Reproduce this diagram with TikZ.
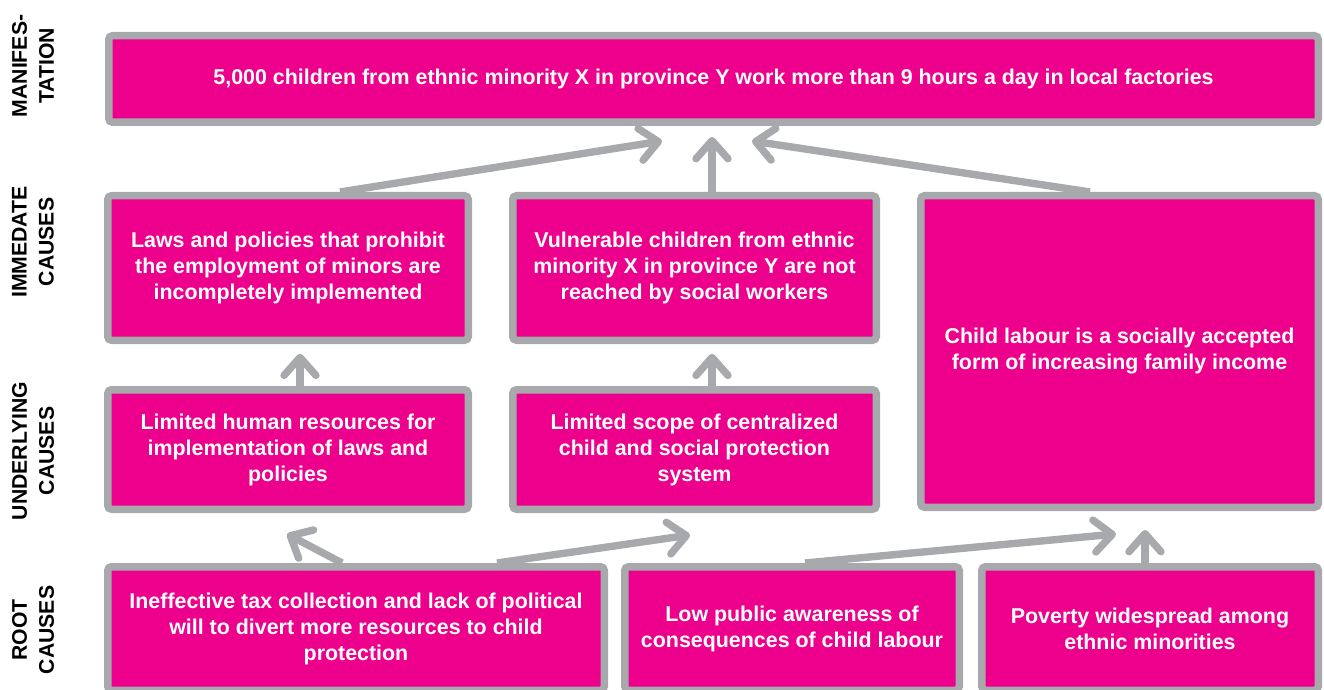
\documentclass[tikz,border=0pt]{standalone}
\usepackage{fontspec}
\setmainfont{Liberation Sans}
\usetikzlibrary{arrows.meta,calc}
\definecolor{ucMag}{HTML}{EC008C}
\definecolor{ucGray}{HTML}{A7A9AC}

\begin{document}
\begin{tikzpicture}[x=0.5pt,y=-0.5pt,
  cbox/.style={fill=ucMag,draw=ucGray,line width=3.75pt,rounded corners=1.875pt,text=white,
    font=\bfseries\fontsize{10.7}{13}\selectfont,align=center,inner sep=0pt},
  lvl/.style={rotate=90,font=\bfseries\fontsize{10.6}{13.5}\selectfont,align=center},
  carr/.style={draw=ucGray,line width=3.7pt,-{Straight Barb[length=9pt,width=16pt,round]}}]
\useasboundingbox (0,0) rectangle (1324,690);
% row labels
\node[lvl] (lm) at (33,66) {MANIFES-\\TATION};
\node[lvl] (li) at (33,242) {IMMEDATE\\CAUSES};
\node[lvl] (lu) at (33,451) {UNDERLYING\\CAUSES};
\node[lvl] (lr) at (33,630) {ROOT\\CAUSES};
% boxes
\node[cbox,minimum width=604.75pt,minimum height=43.25pt] (m) at (713.5,79)
  {5,000 children from ethnic minority X in province Y work more than 9 hours a day in local factories};
\node[cbox,minimum width=180.25pt,minimum height=72.25pt] (i1) at (288,268)
  {Laws and policies that prohibit\\the employment of minors are\\incompletely implemented};
\node[cbox,minimum width=181.75pt,minimum height=72.25pt] (i2) at (694.5,268)
  {Vulnerable children from ethnic\\minority X in province Y are not\\reached by social workers};
\node[cbox,minimum width=198.75pt,minimum height=155.75pt] (i3) at (1119.5,351.5)
  {Child labour is a socially accepted\\form of increasing family income};
\node[cbox,minimum width=180.25pt,minimum height=59.75pt] (u1) at (288,449.5)
  {Limited human resources for\\implementation of laws and\\policies};
\node[cbox,minimum width=181.75pt,minimum height=59.75pt] (u2) at (694.5,449.5)
  {Limited scope of centralized\\child and social protection\\system};
\node[cbox,minimum width=248.25pt,minimum height=61.75pt] (r1) at (356,628.5)
  {Ineffective tax collection and lack of political\\will to divert more resources to child\\protection};
\node[cbox,minimum width=167.25pt,minimum height=61.75pt] (r2) at (792,628.5)
  {Low public awareness of\\consequences of child labour};
\node[cbox,minimum width=168.25pt,minimum height=61.75pt] (r3) at (1150,628.5)
  {Poverty widespread among\\ethnic minorities};
% arrows
\draw[carr] ($(i1.north)+(52,0)$) -- ($(m.south)+(-51.5,15)$);
\draw[carr] ($(i2.north)+(17.5,0)$) -- ($(m.south)+(-1.5,11)$);
\draw[carr] ($(i3.north)+(-29.5,0)$) -- ($(m.south)+(38.5,15)$);
\draw[carr] ($(u1.north)+(12,0)$) -- ($(i1.south)+(12,9.75)$);
\draw[carr] ($(u2.north)+(17.5,0)$) -- ($(i2.south)+(17.5,9.75)$);
\draw[carr] ($(r1.north)+(-14,0)$) -- ($(u1.south)+(-1,21)$);
\draw[carr] ($(r1.north)+(141,0)$) -- ($(u2.south)+(-4.5,22)$);
\draw[carr] ($(r2.north)+(13,0)$) -- ($(i3.south)+(-3.5,23)$);
\draw[carr] ($(r3.north)+(-5,0)$) -- ($(i3.south)+(25.5,19)$);
\end{tikzpicture}
\end{document}
